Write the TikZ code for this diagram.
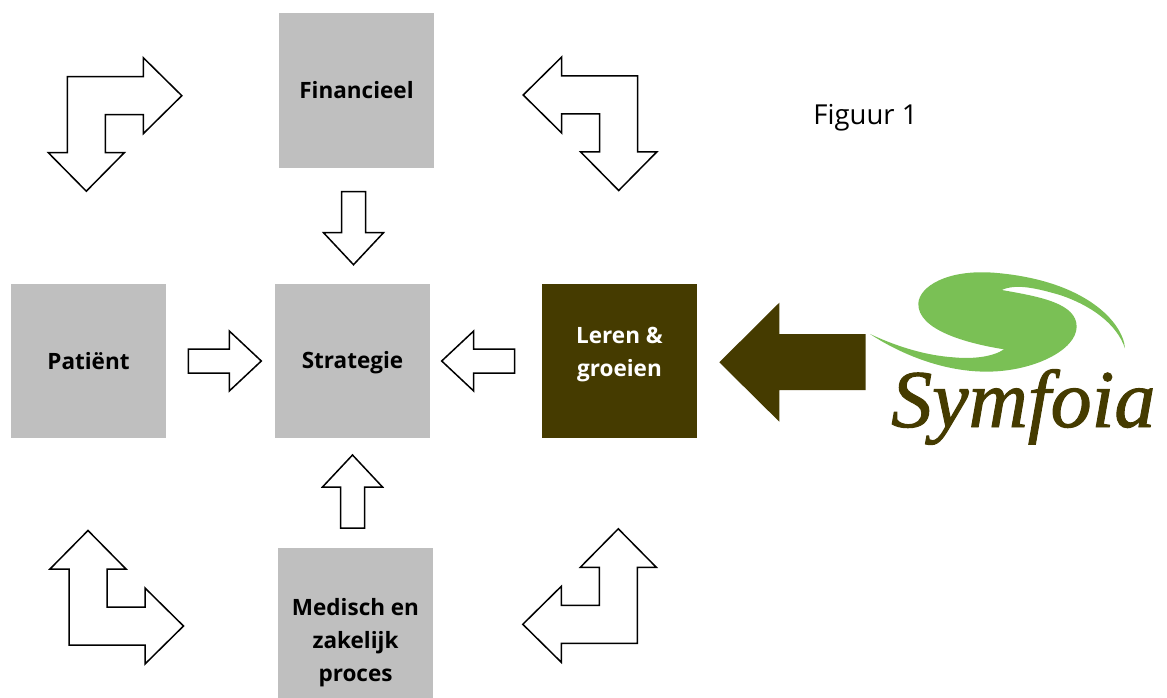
\documentclass[tikz,border=0pt]{standalone}
\usepackage{fontspec}
\setmainfont{Open Sans}
\newfontfamily\logofont[ItalicFeatures={FakeBold=1.2}]{Liberation Serif}
\definecolor{boxgrey}{HTML}{BFBFBF}
\definecolor{olive}{HTML}{453B00}
\definecolor{leaf}{HTML}{7AC055}
\tikzset{
  box/.style={minimum width=155pt,minimum height=154pt,inner sep=0pt,align=center,fill=boxgrey,
    font=\fontsize{22.5}{33}\selectfont\bfseries},
  hollow/.style={draw=black,line width=1.5pt,fill=white,line join=miter}
}
\begin{document}
\begin{tikzpicture}[x=1pt,y=-1pt]
  \def\bentarrow{(0,0) -- (76,0) -- (76,-19) -- (114.5,19) -- (76,57) -- (76,38) -- (38,38) -- (38,76) -- (57,76) -- (19,114.5) -- (-19,76) -- (0,76) -- cycle}
  \def\straightarrow{(-73,-12) -- (-32,-12) -- (-32,-30) -- (0,0) -- (-32,30) -- (-32,12) -- (-73,12) -- cycle}
  \useasboundingbox (0,0) rectangle (1167,698);
  % boxes
  \node[box] (financieel) at (356.5,90.5) {Financieel};
  \node[box] (patient) at (88.5,361) {Patiënt};
  \node[box] (strategie) at (352.5,361) {\raisebox{-7pt}[0pt][0pt]{Strategie}};
  \node[box,fill=olive,text=white] (leren) at (619.5,361) {Leren \&\\groeien\\[-15pt]};
  \node[box,minimum height=150pt] (proces) at (355.5,622.7) {\mbox{}\\[24pt]Medisch en\\zakelijk\\proces};
  % arrows
  \draw[hollow,shift={(67.3,76.7)}] \bentarrow;
  \draw[hollow,shift={(637.7,76)},xscale=-1] \bentarrow;
  \draw[hollow,shift={(69,645)},yscale=-1] \bentarrow;
  \draw[hollow,shift={(637.3,643.3)},xscale=-1,yscale=-1] \bentarrow;
  \draw[hollow,shift={(353.5,264.7)},rotate=-90] \straightarrow;
  \draw[hollow,shift={(261.3,361)}] \straightarrow;
  \draw[hollow,shift={(441.7,361)},rotate=180] \straightarrow;
  \draw[hollow,shift={(352.5,455)},rotate=90] \straightarrow;
  \fill[olive] (719.3,362.3) -- (779.3,302.7) -- (779.3,334) -- (865.7,334) -- (865.7,390) -- (779.3,390) -- (779.3,421.7) -- cycle;
  \node[font=\fontsize{27.5}{32}\selectfont] (figuur) at (865.5,118) {Figuur 1};
  % logo
  \begin{scope}[shift={(860,260)},x=.3333pt,y=-.3333pt]
    \fill[leaf] (795,265) .. controls (790,190) and (680,60) .. (400,38)
      .. controls (260,28) and (178,80) .. (175,130)
      .. controls (172,210) and (320,250) .. (432,268)
      .. controls (400,290) and (340,298) .. (280,292)
      .. controls (180,285) and (90,250) .. (30,222)
      .. controls (110,275) and (240,335) .. (380,335)
      .. controls (520,335) and (650,270) .. (650,200)
      .. controls (650,130) and (540,110) .. (425,90)
      .. controls (470,70) and (530,85) .. (600,105)
      .. controls (690,135) and (770,190) .. (795,265) -- cycle;
  \end{scope}
  \node[anchor=base west,inner sep=0pt,text=olive,font=\fontsize{82}{82}\selectfont\logofont\itshape] (symfoia) at (891,427) {Symfoia};
\end{tikzpicture}
\end{document}
